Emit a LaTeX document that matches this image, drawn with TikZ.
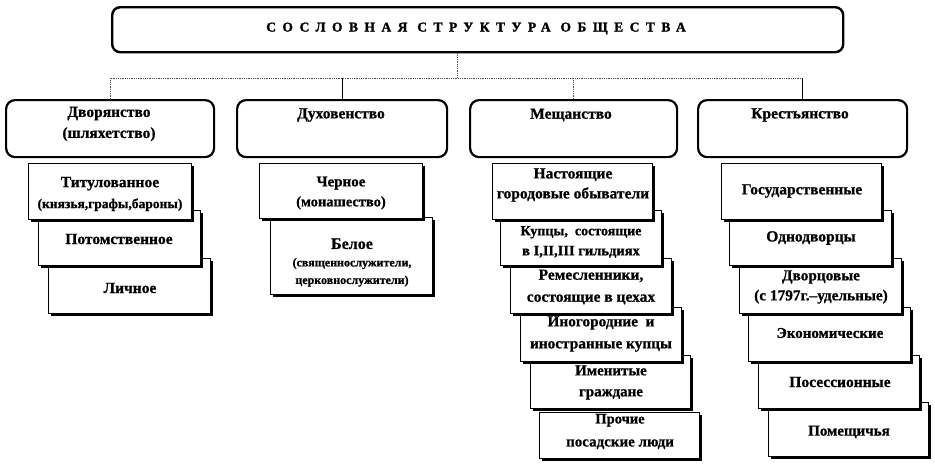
\documentclass[tikz,border=0pt]{standalone}
\usepackage{fontspec}
\setmainfont{Liberation Serif}[BoldFeatures={FakeBold=0.8}]
\newfontfamily\titlefont{Liberation Serif Bold}[LetterSpace=48, FakeBold=1.6]
\usetikzlibrary{shadows}
\newcommand{\fsz}[1]{\fontsize{#1}{#1}\selectfont}
\tikzset{
  titlebox/.style={draw, line width=2.4pt, rounded corners=8pt, inner sep=0pt, anchor=north west},
  estatebox/.style={draw, line width=2.2pt, rounded corners=9pt, inner sep=0pt, anchor=north west, minimum height=57pt},
  subbox/.style={draw, line width=0.7pt, fill=white, inner sep=0pt, anchor=north west,
    drop shadow={shadow xshift=2.2pt, shadow yshift=-2.2pt, opacity=1, fill=black}},
  lbl/.style={align=center, inner sep=0pt, font=\bfseries\fontsize{15.5}{21}\selectfont},
  dotline/.style={densely dotted, line width=0.8pt, black!70},
  solline/.style={line width=0.7pt},
}
\begin{document}
\begin{tikzpicture}[x=1pt,y=-1pt]
\useasboundingbox (0,0) rectangle (935,464);
\path[fill=white] (0,0) rectangle (935,464);

% title
\node[titlebox, minimum width=731pt, minimum height=45pt] (title) at (111,6) {};
\node[inner sep=0pt, font=\titlefont\fontsize{13.5}{15}\selectfont] (titletext) at (476,28.5)
  {СОСЛОВНАЯ СТРУКТУРА ОБЩЕСТВА};

% estates
\node[estatebox, minimum width=208pt] (e1) at (5,99) {};
\node[estatebox, minimum width=210pt] (e2) at (236,99) {};
\node[estatebox, minimum width=207pt] (e3) at (469,99) {};
\node[estatebox, minimum width=209pt] (e4) at (697,99) {};
\node[lbl] (e1t) at (109,124) {Дворянство\\(шляхетство)};
\node[lbl] (e2t) at (341,115) {Духовенство};
\node[lbl] (e3t) at (571,115) {Мещанство};
\node[lbl] (e4t) at (800,115) {Крестьянство};

% connectors
\coordinate (bus) at (457,78);
\draw[dotline] (title.south -| bus) -- (bus);
\draw[dotline] (e1.north) -- (e1.north |- bus) -- (e4.north |- bus);
\draw[solline] (e2.north) -- (e2.north |- bus);
\draw[dotline] (e3.north) -- (e3.north |- bus);
\draw[solline] (e4.north) -- (e4.north |- bus);

% Дворянство
\node[subbox, minimum width=162pt, minimum height=55pt] (d3) at (48,258) {};
\node[subbox, minimum width=162pt, minimum height=55pt] (d2) at (38,210) {};
\node[subbox, minimum width=163pt, minimum height=56pt] (d1) at (28,163) {};
\node[lbl] (d1t) at (110,194) {Титулованное\\{\fsz{13.5}(князья,графы,бароны)}};
\node[lbl] (d2t) at (119,239) {Потомственное};
\node[lbl] (d3t) at (130,288) {Личное};

% Духовенство
\node[subbox, minimum width=162pt, minimum height=77pt] (k2) at (270,217) {};
\node[subbox, minimum width=163pt, minimum height=55pt] (k1) at (259,163) {};
\node[lbl, font=\bfseries\fontsize{15}{20}\selectfont] (k1t) at (341,193) {Черное\\{\fsz{14.5}(монашество)}};
\node[lbl, font=\bfseries\fontsize{12}{17.5}\selectfont] (k2t) at (352,262.5) {{\fsz{16}Белое}\\(священнослужители,\\церковнослужители)};

% Мещанство
\node[subbox, minimum width=160pt, minimum height=46pt] (m6) at (539,412) {};
\node[subbox, minimum width=160pt, minimum height=53pt] (m5) at (530,355) {};
\node[subbox, minimum width=161pt, minimum height=54pt] (m4) at (520,307) {};
\node[subbox, minimum width=161pt, minimum height=55pt] (m3) at (510,258) {};
\node[subbox, minimum width=161pt, minimum height=55pt] (m2) at (500,210) {};
\node[subbox, minimum width=160pt, minimum height=56pt] (m1) at (492,163) {};
\node[lbl, font=\bfseries\fontsize{15.5}{20}\selectfont] (m1t) at (573,185) {Настоящие\\городовые обыватели};
\node[lbl, font=\bfseries\fontsize{14}{20}\selectfont] (m2t) at (581,242) {Купцы,\ \ состоящие\\{\fsz{14.5}в I,II,III гильдиях}};
\node[lbl, font=\bfseries\fontsize{15.5}{22}\selectfont] (m3t) at (591,287) {Ремесленники,\\состоящие в цехах};
\node[lbl, font=\bfseries\fontsize{15.3}{22}\selectfont] (m4t) at (601,334) {Иногородние\ \ и\\иностранные купцы};
\node[lbl, font=\bfseries\fontsize{15}{21}\selectfont] (m5t) at (611,382.5) {Именитые\\граждане};
\node[lbl, font=\bfseries\fontsize{15}{23}\selectfont] (m6t) at (620,431.5) {{\fsz{14.5}Прочие}\\посадские люди};

% Крестьянство
\node[subbox, minimum width=160pt, minimum height=54pt] (p6) at (768,402) {};
\node[subbox, minimum width=161pt, minimum height=53pt] (p5) at (758,355) {};
\node[subbox, minimum width=162pt, minimum height=54pt] (p4) at (748,307) {};
\node[subbox, minimum width=162pt, minimum height=55pt] (p3) at (739,258) {};
\node[subbox, minimum width=162pt, minimum height=55pt] (p2) at (729,210) {};
\node[subbox, minimum width=160pt, minimum height=56pt] (p1) at (721,163) {};
\node[lbl] (p1t) at (802,191) {Государственные};
\node[lbl] (p2t) at (811,238) {Однодворцы};
\node[lbl, font=\bfseries\fontsize{15.3}{20}\selectfont] (p3t) at (821,287) {Дворцовые\\(с 1797г.–удельные)};
\node[lbl, font=\bfseries\fontsize{15}{21}\selectfont] (p4t) at (830,333) {Экономические};
\node[lbl] (p5t) at (840,382) {Посессионные};
\node[lbl, font=\bfseries\fontsize{15}{21}\selectfont] (p6t) at (849,432) {Помещичья};
\end{tikzpicture}
\end{document}
